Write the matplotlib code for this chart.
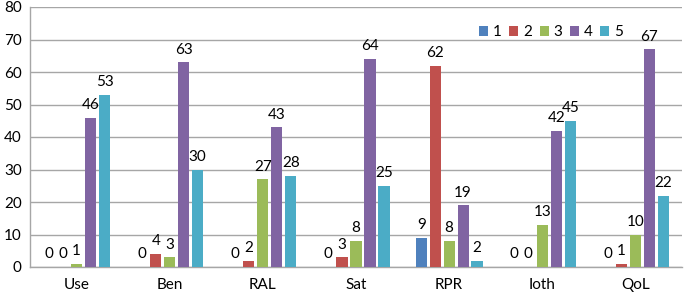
import matplotlib
matplotlib.use("Agg")
import matplotlib.pyplot as plt
import numpy as np

plt.rcParams['font.family'] = ['Lato', 'DejaVu Sans']

categories = ["Use", "Ben", "RAL", "Sat", "RPR", "Ioth", "QoL"]
series_names = ["1", "2", "3", "4", "5"]
s1 = [0, 0, 0, 0, 9, 0, 0]
s2 = [0, 4, 2, 3, 62, 0, 1]
s3 = [1, 3, 27, 8, 8, 13, 10]
s4 = [46, 63, 43, 64, 19, 42, 67]
s5 = [53, 30, 28, 25, 2, 45, 22]
series = [s1, s2, s3, s4, s5]
colors = ["#4F81BD", "#C0504D", "#9BBB59", "#8064A2", "#4BACC6"]
yticks = [0, 10, 20, 30, 40, 50, 60, 70, 80]

fig = plt.figure(figsize=(6.85, 2.94), dpi=100)
ax = fig.add_axes([30/685, 27/294, 652/685, 260/294])

x = np.arange(len(categories))
pitch = 0.15
width = 0.12
for i, (vals, c, name) in enumerate(zip(series, colors, series_names)):
    pos = x + (i - 2) * pitch
    bars = ax.bar(pos, vals, width=width, color=c, label=name, zorder=3)
    for b, v in zip(bars, vals):
        ax.annotate(str(v), (b.get_x() + b.get_width()/2, v), xytext=(0, 4),
                    textcoords="offset points", ha="center", va="bottom",
                    fontsize=11, color="black", zorder=4)

ax.set_xlim(-0.5, len(categories) - 0.5)
ax.set_ylim(0, 80)
ax.set_yticks(yticks)
ax.set_xticks(x)
ax.set_xticklabels(categories, fontsize=11)
ax.tick_params(axis='y', labelsize=11, length=0, pad=6)
ax.tick_params(axis='x', length=0, pad=8)
ax.grid(axis='y', color="#A6A6A6", linewidth=1, zorder=0)
for s in ["top", "right"]:
    ax.spines[s].set_visible(False)
ax.spines["left"].set_color("#A6A6A6")
ax.spines["bottom"].set_color("#A6A6A6")
ax.spines["left"].set_linewidth(1)
ax.spines["bottom"].set_linewidth(1)

ax.legend(loc="upper left", bbox_to_anchor=(0.677, 0.96), ncol=5, frameon=False,
          fontsize=11, handlelength=0.6, handleheight=0.6, handletextpad=0.3,
          columnspacing=0.5, borderpad=0)

fig.savefig("out.png", dpi=100)
